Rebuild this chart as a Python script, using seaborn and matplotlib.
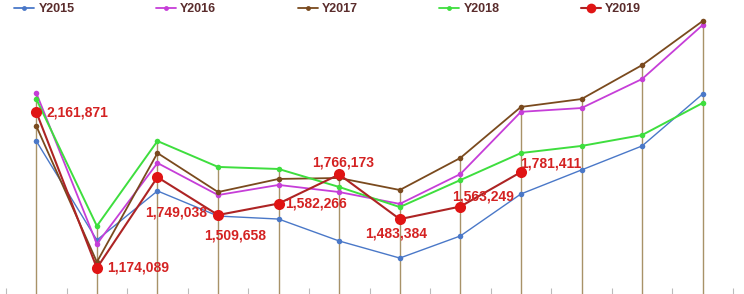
import numpy as np
import pandas as pd
import matplotlib
matplotlib.use("Agg")
import matplotlib.pyplot as plt
from matplotlib.lines import Line2D
import seaborn as sns

sns.set_theme(style="white")
plt.rcParams['font.family'] = ['Liberation Sans', 'DejaVu Sans']

months = ["Jan", "Feb", "Mar", "Apr", "May", "Jun", "Jul", "Aug", "Sep", "Oct", "Nov", "Dec"]
y2015 = [1978000, 1351000, 1662000, 1503000, 1484000, 1345000, 1237000, 1377000, 1643000, 1795000, 1947000, 2276000]
y2016 = [2282000, 1326000, 1839000, 1636000, 1700000, 1655000, 1580000, 1769000, 2163000, 2187000, 2371000, 2713000]
y2017 = [2073000, 1212000, 1902000, 1655000, 1738000, 1744000, 1668000, 1871000, 2194000, 2244000, 2459000, 2738000]
y2018 = [2244000, 1440000, 1978000, 1814000, 1801000, 1687000, 1560000, 1731000, 1902000, 1947000, 2016000, 2219000]
y2019 = [2161871, 1174089, 1749038, 1509658, 1582266, 1766173, 1483384, 1563249, 1781411]

series = {"Y2015": y2015, "Y2016": y2016, "Y2017": y2017, "Y2018": y2018}
colors = {"Y2015": "#4a78c8", "Y2016": "#c63ed8", "Y2017": "#7a4a1e", "Y2018": "#3ede3e"}
widths = {"Y2015": 1.0, "Y2016": 1.3, "Y2017": 1.3, "Y2018": 1.4}
red_line = "#ad2424"
red_mark = "#e01414"
label_color = "#d42222"
drop_color = "#a89268"

rows = []
for name, vals in series.items():
    for i, v in enumerate(vals):
        rows.append({"x": i, "month": months[i], "value": v, "year": name})
df = pd.DataFrame(rows)
df19 = pd.DataFrame({"x": np.arange(len(y2019)), "month": months[:len(y2019)], "value": y2019, "year": "Y2019"})

fig = plt.figure(figsize=(7.44, 2.94), dpi=100)
ax = fig.add_axes([6 / 744, 0.0, 727 / 744, 1.0])

# drop lines from the highest point of each category
allvals = np.array([y2015, y2016, y2017, y2018])
tops = allvals.max(axis=0)
ymin, ymax = 1009447, 2871055
ax.vlines(np.arange(len(months)), ymin, tops, color=drop_color, lw=1.0, zorder=1)

for name in series:
    sns.lineplot(data=df[df["year"] == name], x="x", y="value", color=colors[name], marker="o",
                 markersize=4, markeredgewidth=0, linewidth=widths[name], legend=False, ax=ax, zorder=3)
sns.lineplot(data=df19, x="x", y="value", color=red_line, marker="o", markersize=8,
             markerfacecolor=red_mark, markeredgewidth=0, linewidth=1.5, legend=False, ax=ax, zorder=4)

# labels for Y2019
offsets = [(10, 0, "left", "center"), (10, 0, "left", "center"), (19, -35, "center", "center"),
           (17, -20, "center", "center"), (6, 0, "left", "center"), (4, 12, "center", "center"),
           (-4, -14, "center", "center"), (23, 10, "center", "center"), (30, 9, "center", "center")]
for i, v in enumerate(y2019):
    dx, dy, ha, va = offsets[i]
    ax.annotate(f"{v:,}", (i, v), xytext=(dx, dy), textcoords="offset pixels",
                ha=ha, va=va, color=label_color, fontsize=10, fontweight="bold", zorder=5)

ax.set_xlim(-0.5, len(months) - 0.5)
ax.set_ylim(ymin, ymax)
ax.set_xticks(np.arange(-0.5, len(months), 1.0))
ax.set_xticklabels([])
ax.set_yticks([])
ax.tick_params(axis="x", direction="in", length=4, color="#bbbbbb", width=0.8, bottom=True)
for s in ax.spines.values():
    s.set_visible(False)
ax.set_xlabel("")
ax.set_ylabel("")

handles = []
for name in ["Y2015", "Y2016", "Y2017", "Y2018"]:
    handles.append(Line2D([], [], color=colors[name], marker="o", markersize=3.5, markeredgewidth=0, lw=1.3))
handles.append(Line2D([], [], color=red_line, marker="o", markersize=7, markerfacecolor=red_mark,
                      markeredgewidth=0, lw=1.5))
leg = fig.legend(handles, ["Y2015", "Y2016", "Y2017", "Y2018", "Y2019"], ncol=5,
                 loc="center left", bbox_to_anchor=(14 / 744, 1 - 9 / 294), frameon=False,
                 prop={"weight": "bold", "size": 9}, handlelength=1.6, handletextpad=0.35,
                 columnspacing=6.5, borderpad=0, borderaxespad=0)
for t in leg.get_texts():
    t.set_color("#5a2c2c")

fig.savefig("out.png", dpi=100)
